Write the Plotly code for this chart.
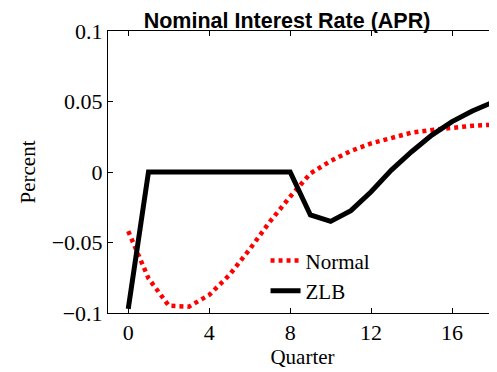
import plotly.graph_objects as go

quarters = list(range(0, 21))
normal = [-0.042, -0.0754, -0.0948, -0.0955, -0.0872, -0.073, -0.0548, -0.0352, -0.0175,
          -0.001, 0.0078, 0.0149, 0.0203, 0.0243, 0.0279, 0.0298, 0.0317, 0.0328, 0.0335,
          0.0340, 0.0344]
zlb = [-0.097, 0.0, 0.0, 0.0, 0.0, 0.0, 0.0, 0.0, 0.0,
       -0.0305, -0.035, -0.0274, -0.014, 0.0014, 0.0144, 0.0262, 0.0357, 0.0433, 0.0494,
       0.053, 0.056]
x_ticks = [0, 4, 8, 12, 16]
y_ticks = [-0.1, -0.05, 0, 0.05, 0.1]
y_labels = ['\u22120.1', '\u22120.05', '0', '0.05', '0.1']

serif = dict(family="Liberation Serif", size=22, color="black")
label_font = dict(family="Liberation Serif", size=21, color="black")

fig = go.Figure()

fig.add_trace(go.Scatter(
    x=quarters, y=normal,
    mode='lines',
    name='Normal',
    line=dict(color='red', width=4.5, dash='4px,4px')
))

fig.add_trace(go.Scatter(
    x=quarters, y=zlb,
    mode='lines',
    name='ZLB',
    line=dict(color='black', width=5)
))

# the page body adds an 8px offset, so the figure is sized to that
fig.update_layout(
    width=489, height=364,
    margin=dict(l=100, r=0, t=23, b=59),
    plot_bgcolor="white",
    paper_bgcolor="white",
    font=serif,
    title=dict(
        text="<b>Nominal Interest Rate (APR)</b>",
        font=dict(family="Liberation Sans", size=21.5, color="black"),
        x=279 / 489, xanchor='center', xref='container',
        y=1 - 12.5 / 364, yanchor='middle', yref='container'
    ),
    xaxis=dict(
        range=[-1, 18.22],
        tickvals=x_ticks,
        ticks='inside', ticklen=5, tickwidth=1, tickcolor='black',
        showline=True, linecolor='black', linewidth=1, mirror='ticks',
        showgrid=False, zeroline=False, automargin=False,
        tickfont=serif,
        title=dict(text="Quarter", font=label_font, standoff=0),
    ),
    yaxis=dict(
        range=[-0.1, 0.1],
        tickvals=y_ticks, ticktext=y_labels,
        ticks='inside', ticklen=5, tickwidth=1, tickcolor='black',
        showline=True, linecolor='black', linewidth=1, mirror=False,
        showgrid=False, zeroline=False, automargin=False,
        tickfont=serif,
        title=dict(text="Percent", font=label_font, standoff=10),
    ),
    legend=dict(
        x=0.405, y=0.258, xanchor='left', yanchor='top',
        bgcolor='rgba(0,0,0,0)',
        font=label_font,
        tracegroupgap=0,
    ),
)

fig.write_html("out.html")
